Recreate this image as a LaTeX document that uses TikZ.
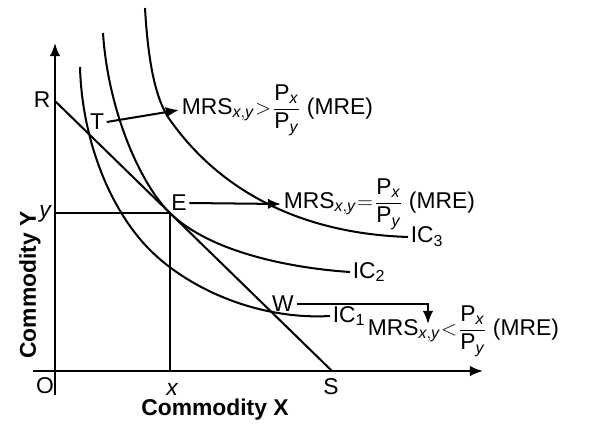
\documentclass[tikz,border=0pt]{standalone}
\usepackage{fontspec}
\setmainfont{Liberation Sans}
\usetikzlibrary{arrows.meta,calc}
\newcommand{\mrsfrac}[1]{MRS$_{\mathit{x,y}}\mkern1mu{#1}\mkern1mu\displaystyle\frac{\mbox{P}_{\mathit{x}}}{\mbox{P}_{\mathit{y}}}$ (MRE)}

\begin{document}
\begin{tikzpicture}[>={Latex[length=7.5pt,width=6pt]},x=0.02cm,y=-0.02cm,line width=1.15pt]
  \tikzstyle{lbl}=[font=\fontsize{13}{15}\selectfont,inner sep=1pt]
  \tikzstyle{axlbl}=[font=\fontsize{13}{15}\selectfont\bfseries,inner sep=1pt]
  \useasboundingbox (0,0) rectangle (596,427);
  \coordinate (O) at (55,371);
  \coordinate (ytop) at (55,43);
  \coordinate (ybot) at (55,395);
  \coordinate (xl) at (33,371);
  \coordinate (xr) at (483,371);
  \coordinate (R) at (55,101);
  \coordinate (S) at (332,371);
  \coordinate (E) at ($(R)!0.415!(S)$);
  \coordinate (Ey) at (O |- E);
  \coordinate (Ex) at (E |- O);
  \draw[->] (ybot) -- (ytop);
  \draw[->] (xl) -- (xr);
  \draw (R) -- (S);
  \draw (Ey) -- (E) -- (Ex);
  \coordinate (c1e) at (330,316);
  \coordinate (c2e) at (350,272);
  \coordinate (c3e) at (408,237);
  \draw (80,67) .. controls (82,140) and (110,210) .. (150,250) .. controls (190,290) and (260,320) .. (c1e);
  \draw (103,33) .. controls (108,110) and ($(E)+(-30,-29.3)$) .. (E) .. controls ($(E)+(40,39)$) and (290,268) .. (c2e);
  \draw (145,8) .. controls (148,60) and (155,99) .. (170,120) .. controls (195,155) and (260,232) .. (c3e);
  \node[lbl,anchor=west] (ic1) at (c1e) {IC\textsubscript{1}};
  \node[lbl,anchor=west] (ic2) at (c2e) {IC\textsubscript{2}};
  \node[lbl,anchor=west] (ic3) at (c3e) {IC\textsubscript{3}};
  \node[lbl] (Rl) at (42,100) {R};
  \node[lbl] (Tl) at (97,122) {T};
  \node[lbl] (El) at (179,203) {E};
  \node[lbl] (Wl) at (283,304) {W};
  \node[lbl] (Sl) at (331,387) {S};
  \node[lbl] (Ol) at (45,386) {O};
  \node[lbl] (yl) at (45,214) {\itshape y};
  \node[lbl] (xlab) at (172,389) {\itshape x};
  \node[lbl,anchor=west] (m1) at (179,110) {\mrsfrac{>}};
  \node[lbl,anchor=west] (m2) at (281,204) {\mrsfrac{=}};
  \node[lbl,anchor=west] (m3) at (365,331) {\mrsfrac{<}};
  \coordinate (w3) at (428,324);
  \draw[->] (Tl.east) -- (m1.west);
  \draw[->] (El.east) -- (m2.west);
  \draw[->] (Wl.east) -| (w3);
  \node[axlbl,rotate=90] (cy) at (30,285) {Commodity Y};
  \node[axlbl] (cx) at (215,410) {Commodity X};
\end{tikzpicture}
\end{document}
